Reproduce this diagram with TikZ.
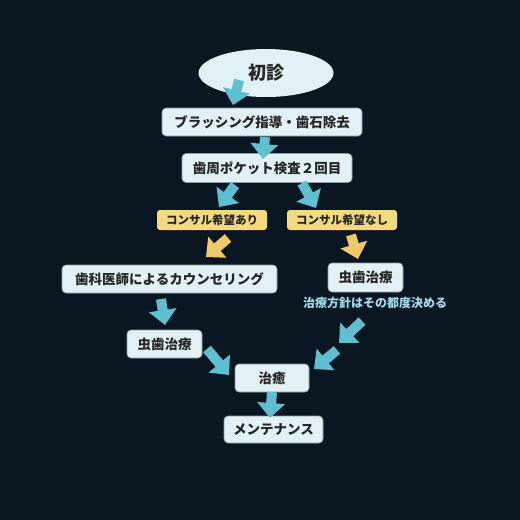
\documentclass[tikz,border=0pt]{standalone}
\usepackage{fontspec}
\setmainfont{Noto Sans CJK JP}
\usetikzlibrary{arrows.meta,shapes.geometric}
\definecolor{bg}{HTML}{0A1723}
\definecolor{boxfill}{HTML}{E2F1F5}
\definecolor{boxline}{HTML}{8C9BA3}
\definecolor{ybox}{HTML}{F3DA7E}
\definecolor{carrow}{HTML}{5EBFD1}
\definecolor{yarrow}{HTML}{F1C96A}
\definecolor{note}{HTML}{9FDCEB}
\tikzset{
  stepbox/.style={draw=boxline, line width=0.6pt, fill=boxfill, rounded corners=4pt, inner sep=0pt, font=\fontsize{13.5}{14}\selectfont\bfseries, text=black!85},
  ylabel/.style={fill=ybox, rounded corners=3pt, inner sep=0pt, minimum height=20pt, minimum width=110pt, font=\fontsize{11.5}{12}\selectfont\bfseries, text=black!85},
  fat/.style={line width=10pt, -{Triangle[width=27pt,length=15pt]}},
  carr/.style={fat, draw=carrow},
  yarr/.style={fat, draw=yarrow},
}
\begin{document}
\begin{tikzpicture}[x=1pt,y=-1pt]
\fill[bg] (0,0) rectangle (520,520);
\useasboundingbox (0,0) rectangle (520,520);

\node[ellipse, fill=boxfill, minimum width=135pt, minimum height=48pt, inner sep=0pt, font=\fontsize{18}{19}\selectfont\bfseries, text=black!85] (start) at (266,73) {初診};
\node[stepbox, minimum width=200pt, minimum height=28pt] (brush) at (262,122) {ブラッシング指導・歯石除去};
\node[stepbox, minimum width=170pt, minimum height=29pt] (perio) at (267,168) {歯周ポケット検査２回目};
\node[ylabel] (yes) at (212,220) {コンサル希望あり};
\node[ylabel] (no) at (342,220) {コンサル希望なし};
\node[stepbox, minimum width=215pt, minimum height=28pt] (couns) at (169.5,279) {歯科医師によるカウンセリング};
\node[stepbox, minimum width=75pt, minimum height=29pt] (cavR) at (365.5,277.5) {虫歯治療};
\node[font=\fontsize{12}{13}\selectfont\bfseries, text=note] (policy) at (375,303) {治療方針はその都度決める};
\node[stepbox, minimum width=75pt, minimum height=28pt] (cavL) at (164.5,344) {虫歯治療};
\node[stepbox, minimum width=74pt, minimum height=28pt] (heal) at (272,378) {治癒};
\node[stepbox, minimum width=99pt, minimum height=27pt] (maint) at (273.5,429.5) {メンテナンス};

\coordinate (a1s) at (239,80);  \coordinate (a1e) at (233,105);
\coordinate (a2s) at (265,137); \coordinate (a2e) at (263,159);
\coordinate (a3s) at (235,185); \coordinate (a3e) at (219,207);
\coordinate (a4s) at (302,183); \coordinate (a4e) at (316,208);
\coordinate (a5s) at (228,238); \coordinate (a5e) at (206,257);
\coordinate (a6s) at (351,235); \coordinate (a6e) at (358,259);
\coordinate (a7s) at (161,299); \coordinate (a7e) at (165,325);
\coordinate (a8s) at (362,321); \coordinate (a8e) at (339,343);
\coordinate (a9s) at (337,350); \coordinate (a9e) at (314,369);
\coordinate (a10s) at (207,349); \coordinate (a10e) at (229,375);
\coordinate (a11s) at (272,392); \coordinate (a11e) at (270,418);

\draw[carr] (a1s) -- (a1e);
\draw[carr] (a2s) -- (a2e);
\draw[carr] (a3s) -- (a3e);
\draw[carr] (a4s) -- (a4e);
\draw[yarr] (a5s) -- (a5e);
\draw[yarr] (a6s) -- (a6e);
\draw[carr] (a7s) -- (a7e);
\draw[carr] (a8s) -- (a8e);
\draw[carr] (a9s) -- (a9e);
\draw[carr] (a10s) -- (a10e);
\draw[carr] (a11s) -- (a11e);
\end{tikzpicture}
\end{document}
